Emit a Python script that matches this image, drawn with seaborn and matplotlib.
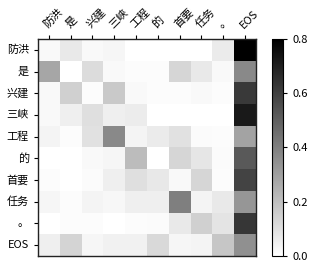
import numpy as np
import pandas as pd
import matplotlib
matplotlib.use("Agg")
import matplotlib.pyplot as plt
import seaborn as sns

# tokens (rows = source, columns = target)
tokens = ["防洪", "是", "兴建", "三峡", "工程", "的", "首要", "任务", "。", "EOS"]

# attention weights, one row per token
w_fanghong = [0.02, 0.07, 0.02, 0.03, 0.00, 0.00, 0.00, 0.00, 0.065, 0.80]
w_shi      = [0.28, 0.00, 0.11, 0.02, 0.01, 0.01, 0.13, 0.07, 0.02, 0.37]
w_xingjian = [0.02, 0.15, 0.01, 0.17, 0.02, 0.01, 0.01, 0.02, 0.01, 0.62]
w_sanxia   = [0.02, 0.05, 0.10, 0.05, 0.06, 0.00, 0.00, 0.00, 0.00, 0.72]
w_gongcheng = [0.035, 0.01, 0.095, 0.37, 0.035, 0.065, 0.095, 0.015, 0.01, 0.29]
w_de       = [0.00, 0.00, 0.02, 0.03, 0.21, 0.00, 0.13, 0.08, 0.015, 0.52]
w_shouyao  = [0.01, 0.00, 0.015, 0.05, 0.10, 0.075, 0.02, 0.13, 0.01, 0.59]
w_renwu    = [0.03, 0.01, 0.035, 0.025, 0.05, 0.05, 0.40, 0.035, 0.07, 0.33]
w_juhao    = [0.00, 0.01, 0.01, 0.00, 0.01, 0.015, 0.07, 0.15, 0.085, 0.63]
w_eos      = [0.05, 0.135, 0.03, 0.045, 0.045, 0.12, 0.03, 0.035, 0.18, 0.35]

weights = pd.DataFrame(
    [w_fanghong, w_shi, w_xingjian, w_sanxia, w_gongcheng,
     w_de, w_shouyao, w_renwu, w_juhao, w_eos],
    index=tokens, columns=tokens)

plt.rcParams["font.family"] = ["Noto Sans CJK SC", "DejaVu Sans"]
plt.rcParams["font.size"] = 8

fig = plt.figure(figsize=(3.15, 2.7), dpi=100)
ax = fig.add_axes([0.1206, 0.052, 0.692, 0.8037])
cax = fig.add_axes([0.8635, 0.052, 0.035, 0.8037])

sns.heatmap(weights, ax=ax, cbar_ax=cax, cmap="gray_r", vmin=0, vmax=0.8)

# frame and ticks like the original
for s in ax.spines.values():
    s.set_visible(True)
    s.set_color("#222222")
    s.set_linewidth(1)
cbar = ax.collections[0].colorbar
cbar.outline.set_linewidth(0.8)
cbar.set_ticks([0, 0.2, 0.4, 0.6, 0.8])
cax.tick_params(labelsize=8, length=3)

ax.xaxis.tick_top()
ax.set_xticklabels(tokens, rotation=45, ha="left", rotation_mode="anchor")
ax.set_yticklabels(tokens, rotation=0)
ax.tick_params(axis="both", length=3, labelsize=8)

fig.savefig("out.png", dpi=100)
